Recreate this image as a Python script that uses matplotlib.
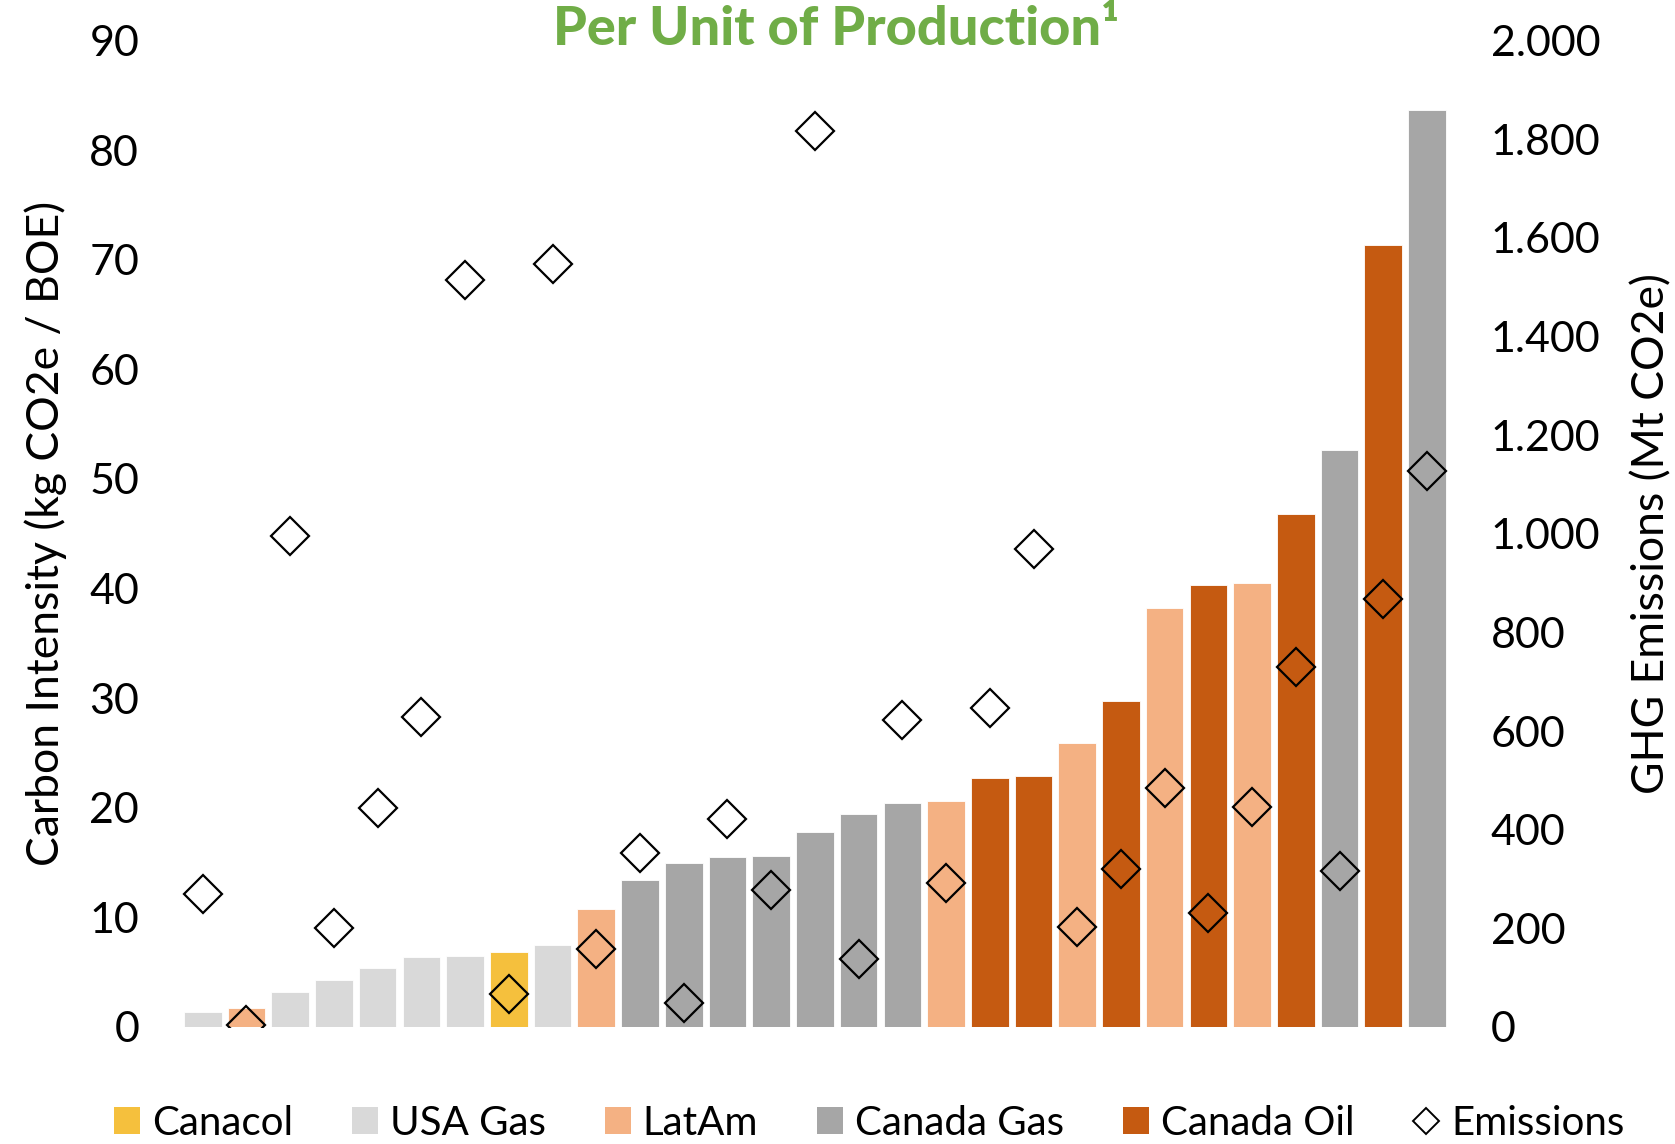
import numpy as np
import matplotlib
matplotlib.use("Agg")
import matplotlib.pyplot as plt
from matplotlib.patches import Patch
from matplotlib.lines import Line2D
from matplotlib.ticker import FuncFormatter

plt.rcParams['font.family'] = ['Lato', 'DejaVu Sans']

# group of each bar, left to right
groups = ['USA Gas', 'LatAm', 'USA Gas', 'USA Gas', 'USA Gas', 'USA Gas', 'USA Gas',
          'Canacol', 'USA Gas', 'LatAm', 'Canada Gas', 'Canada Gas', 'Canada Gas',
          'Canada Gas', 'Canada Gas', 'Canada Gas', 'Canada Gas', 'LatAm',
          'Canada Oil', 'Canada Oil', 'LatAm', 'Canada Oil', 'LatAm', 'Canada Oil',
          'LatAm', 'Canada Oil', 'Canada Gas', 'Canada Oil', 'Canada Gas']
# carbon intensity, kg CO2e / BOE
intensity = [1.4, 1.7, 3.2, 4.3, 5.4, 6.4, 6.5, 6.8, 7.5, 10.8, 13.4, 15.0, 15.5,
             15.6, 17.8, 19.4, 20.4, 20.6, 22.7, 22.9, 25.9, 29.7, 38.2, 40.3,
             40.5, 46.8, 52.6, 71.3, 83.7]
# GHG emissions, Mt CO2e
emissions = [269, 5, 996, 200, 444, 628, 1514, 66, 1546, 159, 352, 49, 421,
             277, 1817, 137, 623, 292, 647, 970, 203, 321, 485, 232, 445, 730,
             316, 868, 1127]

legend_order = ['Canacol', 'USA Gas', 'LatAm', 'Canada Gas', 'Canada Oil']
colors = {'Canacol': '#F5C03D', 'USA Gas': '#D9D9D9', 'LatAm': '#F4B183',
          'Canada Gas': '#A6A6A6', 'Canada Oil': '#C55A11'}

fig = plt.figure(figsize=(16.75, 11.44), dpi=100)
ax = fig.add_axes([0.108, 0.1023, 0.757, 0.8623])
x = np.arange(len(intensity))
ax.bar(x, intensity, width=0.86, color=[colors[g] for g in groups],
       edgecolor='white', linewidth=0.6, zorder=2)
ax.set_xlim(-0.5, len(intensity) - 0.5)
ax.set_ylim(0, 90)
ax.set_yticks(range(0, 91, 10))
ax.set_xticks([])
for s in ax.spines.values():
    s.set_visible(False)
ax.tick_params(axis='y', length=0, labelsize=31, pad=30)
ax.set_ylabel('Carbon Intensity (kg CO2e / BOE)', fontsize=32, labelpad=16)

ax2 = ax.twinx()
ax2.plot(x, emissions, linestyle='none', marker='D', markersize=19,
         markerfacecolor='none', markeredgecolor='black', markeredgewidth=1.6, zorder=3)
ax2.set_ylim(0, 2000)
ax2.set_yticks(range(0, 2001, 200))
ax2.yaxis.set_major_formatter(FuncFormatter(lambda v, p: f'{int(v):,}'.replace(',', '.')))
for s in ax2.spines.values():
    s.set_visible(False)
ax2.tick_params(axis='y', length=0, labelsize=31, pad=30)
ax2.set_ylabel('GHG Emissions (Mt CO2e)', fontsize=32, labelpad=22)

fig.text(0.4994, 0.974, 'Per Unit of Production\u00b9', color='#70AD47',
         fontsize=39, fontweight='black', ha='center', va='center')

handles = [Patch(facecolor=colors[g], edgecolor='none') for g in legend_order]
handles.append(Line2D([], [], linestyle='none', marker='D', markersize=13,
                      markerfacecolor='none', markeredgecolor='black', markeredgewidth=1.4))
fig.legend(handles, legend_order + ['Emissions'], loc='center', ncol=6,
           bbox_to_anchor=(0.519, 0.018), frameon=False, fontsize=29,
           handlelength=0.65, handleheight=0.65, handletextpad=0.3,
           columnspacing=1.45, borderaxespad=0)

fig.savefig('out.png', dpi=100)
